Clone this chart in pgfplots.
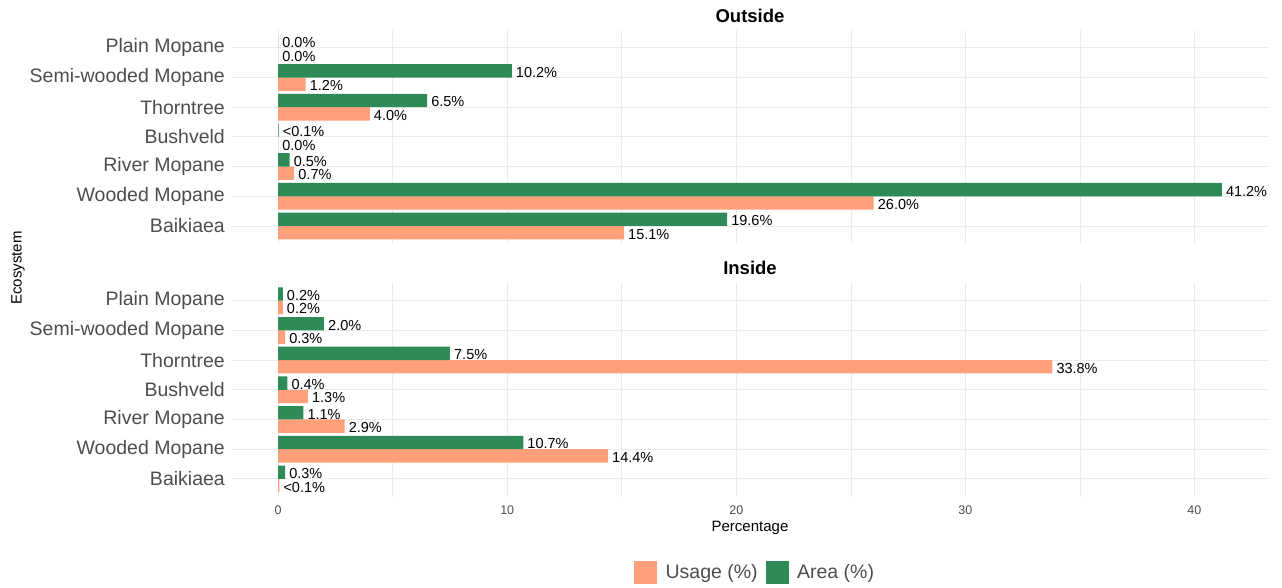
\documentclass[border=0pt]{standalone}
\usepackage{fontspec}
\setmainfont{Liberation Sans}
\usepackage{pgfplots}
\usepackage{pgfplotstable}
\pgfplotsset{compat=1.18}
\definecolor{areac}{HTML}{2E8B57}
\definecolor{usagec}{HTML}{FFA07A}
\definecolor{gridc}{HTML}{EBEBEB}
\definecolor{txtgray}{HTML}{4D4D4D}

\pgfplotstableread{
y usage area ulab alab
6 0.0 0.0 0.0\% 0.0\%
5 1.2 10.2 1.2\% 10.2\%
4 4.0 6.5 4.0\% 6.5\%
3 0.0 0.02 0.0\% <0.1\%
2 0.7 0.5 0.7\% 0.5\%
1 26.0 41.2 26.0\% 41.2\%
0 15.1 19.6 15.1\% 19.6\%
}\outsidetab

\pgfplotstableread{
y usage area ulab alab
6 0.2 0.2 0.2\% 0.2\%
5 0.3 2.0 0.3\% 2.0\%
4 33.8 7.5 33.8\% 7.5\%
3 1.3 0.4 1.3\% 0.4\%
2 2.9 1.1 2.9\% 1.1\%
1 14.4 10.7 14.4\% 10.7\%
0 0.05 0.3 <0.1\% 0.3\%
}\insidetab

\pgfplotsset{panel/.style={
  scale only axis, width=1038pt, height=213.8pt,
  xmin=-2.06, xmax=43.26, ymin=-0.6, ymax=6.6,
  axis line style={draw=none}, major tick length=0pt, minor tick length=0pt,
  xtick={0,10,20,30,40}, minor xtick={5,15,25,35},
  ytick={0,1,2,3,4,5,6},
  yticklabels={Baikiaea,Wooded Mopane,River Mopane,Bushveld,Thorntree,Semi-wooded Mopane,Plain Mopane},
  xmajorgrids, xminorgrids, ymajorgrids,
  major grid style={gridc, line width=0.9pt},
  minor grid style={gridc, line width=0.5pt},
  yticklabel style={font=\fontsize{19.5}{20}\selectfont, text=txtgray, inner sep=0pt, anchor=east, xshift=-6pt},
  xticklabel style={font=\fontsize{12.5}{13}\selectfont, text=txtgray, inner sep=0pt, yshift=-9pt},
  /pgf/number format/assume math mode=true,
  nodes near coords, point meta=explicit symbolic,
  every node near coord/.append style={font=\fontsize{14.5}{15}\selectfont, text=black, anchor=west, inner sep=0pt, xshift=4pt, yshift=-1.5pt},
  clip=false,
}}

\begin{document}
\begin{tikzpicture}
\useasboundingbox (0,0) rectangle (1282pt,587pt);

% Outside panel
\begin{axis}[panel, at={(231pt,343.2pt)}, anchor=south west, xticklabels={}]
\addplot[xbar, bar width=0.45, bar shift=-0.225, fill=usagec, draw=none, forget plot,
  every node near coord/.append style={yshift=-6.7pt}]
  table[x=usage, y=y, meta=ulab]{\outsidetab};
\addplot[xbar, bar width=0.45, bar shift=0.225, fill=areac, draw=none, forget plot,
  every node near coord/.append style={yshift=6.7pt}]
  table[x=area, y=y, meta=alab]{\outsidetab};
\node[font=\bfseries\fontsize{18.5}{19}\selectfont] at (rel axis cs:0.5,1) [yshift=14pt] {Outside};
\end{axis}

% Inside panel
\begin{axis}[panel, at={(231pt,90.3pt)}, anchor=south west,
  legend columns=2,
  legend style={at={(0.504,-0.3525)}, anchor=center, draw=none, fill=none, inner sep=0pt,
    nodes={font=\fontsize{19.5}{20}\selectfont, text=txtgray, inner sep=0pt},
    /tikz/every odd column/.append style={column sep=9pt},
    /tikz/every even column/.append style={column sep=8pt}},
]
\addplot[xbar, bar width=0.45, bar shift=-0.225, fill=usagec, draw=none, forget plot,
  every node near coord/.append style={yshift=-6.7pt}]
  table[x=usage, y=y, meta=ulab]{\insidetab};
\addplot[xbar, bar width=0.45, bar shift=0.225, fill=areac, draw=none, forget plot,
  every node near coord/.append style={yshift=6.7pt}]
  table[x=area, y=y, meta=alab]{\insidetab};
\addlegendimage{legend image code/.code={\fill[usagec] (0pt,-11pt) rectangle (22pt,11pt);}}
\addlegendentry{Usage (\%)}
\addlegendimage{legend image code/.code={\fill[areac] (0pt,-11pt) rectangle (22pt,11pt);}}
\addlegendentry{Area (\%)}
\node[font=\bfseries\fontsize{18.5}{19}\selectfont] at (rel axis cs:0.5,1) [yshift=15pt] {Inside};
\end{axis}

\node[rotate=90, font=\fontsize{15}{15}\selectfont] at (18pt,319pt) {Ecosystem};
\node[font=\fontsize{15}{15}\selectfont] at (750pt,59pt) {Percentage};
\end{tikzpicture}
\end{document}
